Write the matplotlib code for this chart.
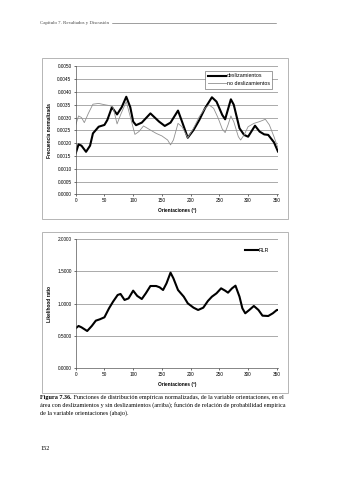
import matplotlib.pyplot as plt
from matplotlib.patches import Rectangle

plt.rcParams['font.family'] = ['Liberation Sans', 'DejaVu Sans']

# --- datos ---
ori_desl = [0, 5, 10, 18, 25, 30, 40, 50, 55, 63, 72, 80, 88, 95, 100, 105, 115,
            130, 145, 155, 165, 178, 185, 195, 205, 215, 225, 237, 245, 255, 260,
            270, 275, 285, 293, 300, 312, 320, 328, 335, 345, 352]
desl = [0.00160, 0.00195, 0.00190, 0.00166, 0.00190, 0.00238, 0.00264, 0.00271,
        0.00290, 0.00340, 0.00312, 0.00340, 0.00381, 0.00340, 0.00284, 0.00270,
        0.00280, 0.00316, 0.00284, 0.00267, 0.00280, 0.00327, 0.00284, 0.00221,
        0.00251, 0.00290, 0.00336, 0.00379, 0.00362, 0.00310, 0.00293, 0.00371,
        0.00350, 0.00258, 0.00232, 0.00225, 0.00268, 0.00245, 0.00234, 0.00232,
        0.00203, 0.00167]

ori_nodesl = [0, 5, 10, 15, 22, 30, 40, 50, 60, 65, 72, 78, 88, 95, 103, 110, 118,
              130, 140, 150, 160, 165, 170, 178, 185, 195, 205, 215, 225, 232, 240,
              248, 255, 260, 265, 270, 275, 283, 287, 293, 300, 310, 320, 330, 337,
              345, 352]
nodesl = [0.00271, 0.00306, 0.00300, 0.00280, 0.00316, 0.00352, 0.00355, 0.00350,
          0.00346, 0.00340, 0.00275, 0.00310, 0.00362, 0.00303, 0.00234, 0.00245,
          0.00267, 0.00251, 0.00238, 0.00228, 0.00212, 0.00193, 0.00212, 0.00277,
          0.00264, 0.00221, 0.00258, 0.00303, 0.00336, 0.00349, 0.00336, 0.00297,
          0.00255, 0.00241, 0.00271, 0.00306, 0.00284, 0.00225, 0.00212, 0.00232,
          0.00264, 0.00277, 0.00284, 0.00293, 0.00271, 0.00225, 0.00180]

ori_rlr = [0, 5, 10, 20, 28, 35, 42, 50, 58, 65, 73, 78, 85, 92, 100, 107, 115,
           122, 130, 140, 146, 152, 158, 165, 170, 178, 188, 195, 205, 213, 222,
           230, 237, 245, 253, 260, 265, 272, 278, 285, 290, 295, 302, 310, 318,
           325, 335, 343, 350, 352]
rlr = [0.619, 0.655, 0.634, 0.577, 0.655, 0.737, 0.758, 0.789, 0.928, 1.031, 1.134,
       1.150, 1.057, 1.082, 1.201, 1.120, 1.072, 1.160, 1.273, 1.273, 1.253, 1.211,
       1.314, 1.479, 1.392, 1.211, 1.108, 1.005, 0.938, 0.902, 0.938, 1.041, 1.108,
       1.160, 1.237, 1.201, 1.170, 1.237, 1.278, 1.108, 0.928, 0.851, 0.902, 0.964,
       0.902, 0.814, 0.809, 0.851, 0.902, 0.902]

xticks = [0, 50, 100, 150, 200, 250, 300, 350]
yticks_top = [0.0, 0.0005, 0.0010, 0.0015, 0.0020, 0.0025, 0.0030, 0.0035,
              0.0040, 0.0045, 0.0050]
yticks_bot = [0.0, 0.5, 1.0, 1.5, 2.0]

fs = 3.4


def style_axes(ax, yticks, fmt):
    ax.set_xlim(0, 352)
    ax.set_ylim(yticks[0], yticks[-1])
    ax.set_xticks(xticks)
    ax.set_yticks(yticks)
    ax.set_yticklabels([fmt.format(v) for v in yticks])
    ax.tick_params(labelsize=fs, length=1.5, width=0.4, pad=1.5)
    for s in ['top', 'right']:
        ax.spines[s].set_visible(False)
    for s in ['left', 'bottom']:
        ax.spines[s].set_linewidth(0.5)
        ax.spines[s].set_color('#555555')
    ax.grid(axis='y', color='#888888', linewidth=0.5)
    ax.set_axisbelow(True)
    ax.set_xlabel('Orientaciones (º)', fontsize=fs, fontweight='bold', labelpad=3)


fig = plt.figure(figsize=(3.39, 4.8), dpi=100)

# cabecera de pagina
fig.text(40 / 339, 1 - 23 / 480, 'Capítulo 7. Resultados y Discusión', fontsize=3.5,
         family='Liberation Serif', color='#444444', va='center')
fig.add_artist(plt.Line2D([112 / 339, 276 / 339], [1 - 23 / 480, 1 - 23 / 480],
                          color='#555555', linewidth=0.4))

# marcos de los graficos
for y0, y1 in [(219, 58), (393, 232)]:
    fig.add_artist(Rectangle((42 / 339, 1 - y0 / 480), 246 / 339, (y0 - y1) / 480,
                             fill=False, edgecolor='#aaaaaa', linewidth=0.6))

# grafico superior
ax1 = fig.add_axes([75.7 / 339, 1 - 194.3 / 480, 202.3 / 339, 128 / 480])
ax1.plot(ori_desl, desl, color='black', linewidth=1.5, label='deslizamientos')
ax1.plot(ori_nodesl, nodesl, color='#909090', linewidth=0.6, label='no deslizamientos')
style_axes(ax1, yticks_top, '{:.4f}')
ax1.set_ylabel('Frecuencia normalizada', fontsize=fs, fontweight='bold', labelpad=4)
leg1 = ax1.legend(loc='upper right', bbox_to_anchor=(0.985, 0.985), fontsize=3.8,
                  frameon=True, fancybox=False, edgecolor='#555555', framealpha=1,
                  handlelength=3.4, borderpad=0.5, labelspacing=0.5, handletextpad=0.2)
leg1.get_frame().set_linewidth(0.4)

# grafico inferior
ax2 = fig.add_axes([75.7 / 339, 1 - 368.3 / 480, 202.3 / 339, 129.3 / 480])
ax2.plot(ori_rlr, rlr, color='black', linewidth=1.5, label='RLR')
style_axes(ax2, yticks_bot, '{:.4f}')
ax2.set_ylabel('Likelihood ratio', fontsize=fs, fontweight='bold', labelpad=4)
ax2.legend(loc='upper right', bbox_to_anchor=(0.98, 0.97), fontsize=3.8,
           frameon=False, handlelength=2.5, handletextpad=0.1)

# pie de figura
cfs = 4.45
head = fig.text(40 / 339, 1 - 397 / 480, 'Figura 7.36.', fontsize=cfs, fontweight='bold',
                family='Liberation Serif', va='center')
ax2.annotate(' Funciones de distribución empíricas normalizadas, de la variable orientaciones, en el',
             xy=(1, 0.5), xycoords=head, va='center', ha='left', fontsize=cfs,
             family='Liberation Serif', annotation_clip=False)
fig.text(40 / 339, 1 - 405 / 480,
         'área con deslizamientos y sin deslizamientos (arriba); función de relación de probabilidad empírica',
         fontsize=cfs, family='Liberation Serif', va='center')
fig.text(40 / 339, 1 - 413 / 480, 'de la variable orientaciones (abajo).',
         fontsize=cfs, family='Liberation Serif', va='center')
fig.text(40 / 339, 1 - 448 / 480, '152', fontsize=4.5, family='Liberation Serif', va='center')

fig.savefig('out.png', dpi=100)
